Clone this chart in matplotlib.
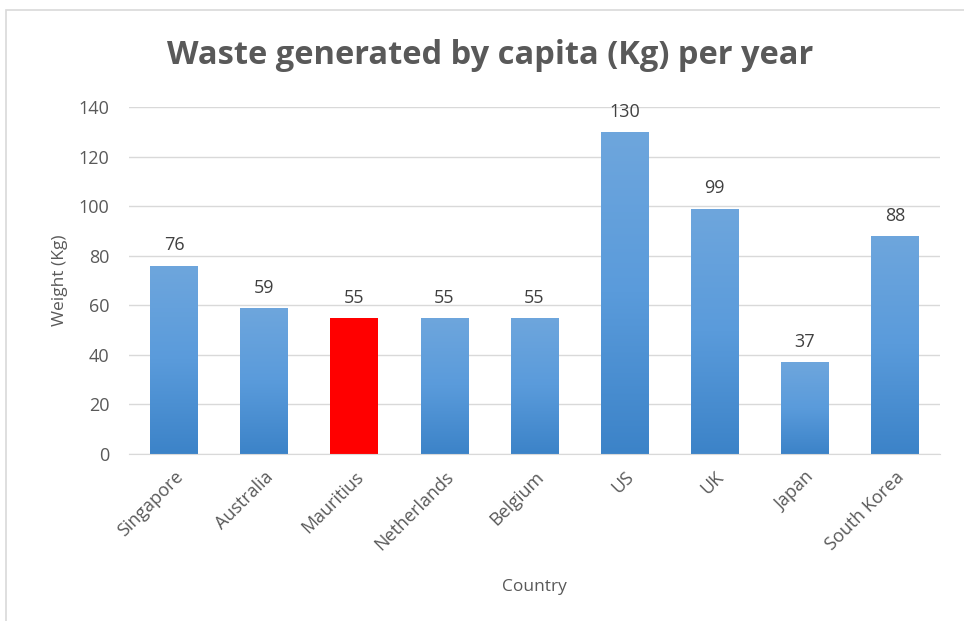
import matplotlib
matplotlib.use("Agg")
import matplotlib.pyplot as plt
import numpy as np
from matplotlib.colors import LinearSegmentedColormap
from matplotlib.patches import Rectangle

countries = ["Singapore", "Australia", "Mauritius", "Netherlands", "Belgium",
             "US", "UK", "Japan", "South Korea"]
values = [76, 59, 55, 55, 55, 130, 99, 37, 88]
highlight = "Mauritius"
yticks = [0, 20, 40, 60, 80, 100, 120, 140]

plt.rcParams['font.family'] = ['Open Sans', 'DejaVu Sans']

fig = plt.figure(figsize=(9.64, 6.21), dpi=100)
ax = fig.add_axes([129/964, 1-454/621, (940-129)/964, (454-107)/621])

x = np.arange(len(countries))
bars = ax.bar(x, values, width=0.53, color="none", edgecolor="none", zorder=3)

cmap = LinearSegmentedColormap.from_list("g", ["#3C83C8", "#5A9BDB", "#6EA6DD"])
grad = np.linspace(0, 1, 256).reshape(-1, 1)
for b, c in zip(bars, countries):
    x0, y0 = b.get_x(), b.get_y()
    w, h = b.get_width(), b.get_height()
    if c == highlight:
        ax.add_patch(Rectangle((x0, y0), w, h, facecolor="#FF0000", edgecolor="none", zorder=3))
    else:
        im = ax.imshow(grad, extent=(x0, x0 + w, y0, y0 + h), origin="lower",
                       cmap=cmap, aspect="auto", zorder=3)
        clip = Rectangle((x0, y0), w, h, transform=ax.transData)
        im.set_clip_path(clip)
    ax.text(b.get_x() + w / 2, h + 4.5, str(int(h)), ha="center", va="bottom",
            fontsize=13, color="#404040", zorder=4)

ax.set_xlim(-0.5, len(countries) - 0.5)
ax.set_ylim(0, 140)
ax.set_yticks(yticks)
ax.set_yticklabels([str(t) for t in yticks], fontsize=13, color="#595959")
ax.set_xticks(x)
ax.set_xticklabels(countries, rotation=45, ha="right", rotation_mode="anchor",
                   fontsize=13, color="#595959")
ax.tick_params(axis="y", length=0, pad=14)
ax.tick_params(axis="x", length=0, pad=10)
ax.grid(axis="y", color="#D9D9D9", linewidth=1, zorder=0)
ax.set_axisbelow(True)
for s in ["top", "right", "left"]:
    ax.spines[s].set_visible(False)
ax.spines["bottom"].set_color("#D9D9D9")
ax.spines["bottom"].set_zorder(5)

ax.set_ylabel("Weight (Kg)", fontsize=12.5, color="#595959", labelpad=8)
ax.set_xlabel("Country", fontsize=12.5, color="#595959", labelpad=18)

fig.text(490/964, 1-55/621, "Waste generated by capita (Kg) per year", ha="center",
         va="center", fontsize=23.5, fontweight="bold", color="#595959")

# outer chart frame
fig.add_artist(Rectangle((6/964, -0.01), 1.0, 1-10/621 + 0.01, transform=fig.transFigure,
                         fill=False, edgecolor="#D9D9D9", linewidth=1.2))

fig.savefig("out.png", dpi=100)
